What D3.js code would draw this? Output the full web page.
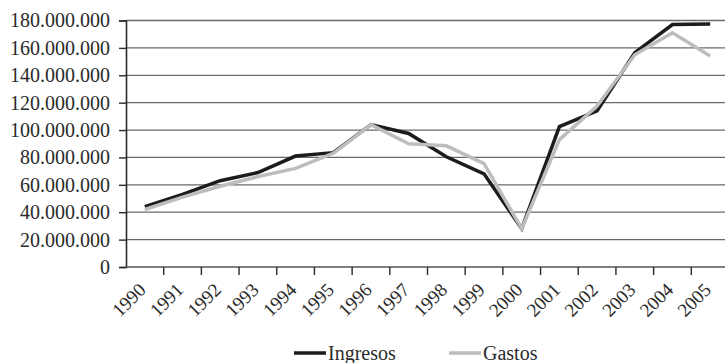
<!DOCTYPE html>
<html>
<head>
<meta charset="utf-8">
<script src="https://cdn.jsdelivr.net/npm/d3@7"></script>
<style>
  body { margin: 0; background: #fff; }
  svg text { font-family: "Liberation Serif", "DejaVu Serif", serif; fill: #2a2a2a; }
</style>
</head>
<body>
<div id="chart"></div>
<script>
// data
const years = ["1990","1991","1992","1993","1994","1995","1996","1997","1998","1999","2000","2001","2002","2003","2004","2005"];
const ingresos = [44000000, 53000000, 63000000, 69000000, 81000000, 83500000, 104000000, 97500000, 80500000, 68000000, 28000000, 102500000, 114000000, 156500000, 177000000, 177500000];
const gastos = [42000000, 51000000, 59000000, 66000000, 72000000, 83000000, 104000000, 90000000, 88500000, 75500000, 28000000, 93000000, 117500000, 155000000, 171000000, 154000000];
const yTicks = [0, 20000000, 40000000, 60000000, 80000000, 100000000, 120000000, 140000000, 160000000, 180000000];

const width = 725, height = 363;
const margin = {top: 20.5, right: -4, bottom: 96, left: 126};

const svg = d3.select("#chart").append("svg")
    .attr("width", width)
    .attr("height", height);

const x = d3.scaleBand()
    .domain(years)
    .range([margin.left, width - margin.right]);

const y = d3.scaleLinear()
    .domain([0, 180000000])
    .range([height - margin.bottom, margin.top]);

const fmt = v => v === 0 ? "0" : d3.format(",")(v).replace(/,/g, ".");

// gridlines
svg.append("g")
    .selectAll("line")
    .data(yTicks.filter(d => d > 0))
    .join("line")
    .attr("x1", margin.left)
    .attr("x2", width)
    .attr("y1", d => y(d))
    .attr("y2", d => y(d))
    .attr("stroke", "#6a6a6a")
    .attr("stroke-width", 1.3);

// y axis
const yAxis = svg.append("g")
    .attr("transform", `translate(${margin.left},0)`)
    .call(d3.axisLeft(y).tickValues(yTicks).tickFormat(fmt).tickSize(7).tickPadding(9));
yAxis.selectAll("text").style("font-size", "20px");
yAxis.select(".domain").attr("stroke", "#2a2a2a").attr("stroke-width", 1.6);
yAxis.selectAll(".tick line").attr("stroke", "#2a2a2a").attr("stroke-width", 1.4);

// x axis: ticks at band boundaries
const xAxis = svg.append("g")
    .attr("transform", `translate(0,${y(0)})`);
xAxis.append("line")
    .attr("x1", margin.left).attr("x2", width)
    .attr("stroke", "#555").attr("stroke-width", 1.6);
xAxis.selectAll(".xt")
    .data(years.slice(1))
    .join("line")
    .attr("class", "xt")
    .attr("x1", d => x(d)).attr("x2", d => x(d))
    .attr("y1", 0).attr("y2", 8)
    .attr("stroke", "#2a2a2a").attr("stroke-width", 1.4);
xAxis.selectAll(".xl")
    .data(years)
    .join("text")
    .attr("class", "xl")
    .attr("transform", d => `translate(${x(d) + x.bandwidth() / 2 + 2},${24}) rotate(-45)`)
    .attr("text-anchor", "end")
    .style("font-size", "19px")
    .text(d => d);

// lines
const line = d3.line()
    .x((d, i) => x(years[i]) + x.bandwidth() / 2)
    .y(d => y(d));

svg.append("path")
    .datum(ingresos)
    .attr("fill", "none")
    .attr("stroke", "#1c1c1c")
    .attr("stroke-width", 3.5)
    .attr("d", line);

svg.append("path")
    .datum(gastos)
    .attr("fill", "none")
    .attr("stroke", "#bdbdbd")
    .attr("stroke-width", 3.5)
    .attr("d", line);

// legend
const legend = [
    {name: "Ingresos", color: "#1c1c1c", x: 294},
    {name: "Gastos", color: "#bdbdbd", x: 449}
];
const lg = svg.append("g").selectAll("g")
    .data(legend)
    .join("g")
    .attr("transform", d => `translate(${d.x},353)`);
lg.append("line")
    .attr("x1", 0).attr("x2", 32)
    .attr("stroke", d => d.color)
    .attr("stroke-width", 3.5);
lg.append("text")
    .attr("x", 34)
    .attr("y", 7)
    .style("font-size", "20px")
    .text(d => d.name);
</script>
</body>
</html>
